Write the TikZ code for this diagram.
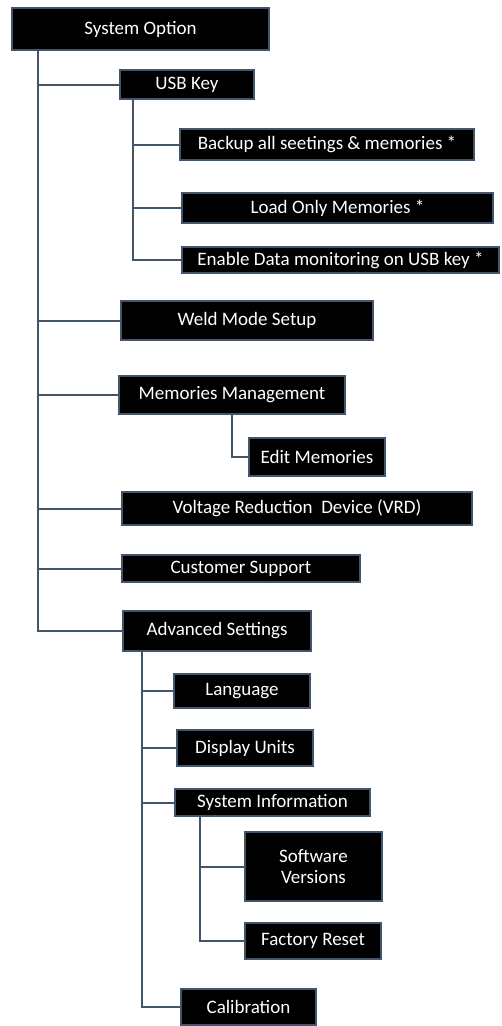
\documentclass[tikz,border=0pt]{standalone}
\usepackage{fontspec}
\setmainfont{Carlito}
\usetikzlibrary{positioning}
\definecolor{slateline}{HTML}{44546A}

\begin{document}
\begin{tikzpicture}[x=1pt,y=-1pt,
    menubox/.style={draw=slateline,line width=1.5pt,fill=black,text=white,align=center,inner sep=0pt,font=\fontsize{19}{21}\selectfont},
    tree/.style={draw=slateline,line width=2pt}]
  \useasboundingbox (0,0) rectangle (501,1026);
  % top level
  \node[menubox,minimum width=257pt,minimum height=42pt] (sysopt) at (140.5,29) {System Option};
  \node[menubox,minimum width=134pt,minimum height=29pt] (usb) at (187,84.5) {USB Key};
  \node[menubox,minimum width=294pt,minimum height=31pt] (backup) at (327,144.5) {Backup all seetings \& memories *};
  \node[menubox,minimum width=311pt,minimum height=30pt] (loadmem) at (337.5,208) {Load Only Memories *};
  \node[menubox,minimum width=317pt,minimum height=26pt] (enable) at (340.5,260) {Enable Data monitoring on USB key *};
  \node[menubox,minimum width=252pt,minimum height=39pt] (weld) at (247,320.5) {Weld Mode Setup};
  \node[menubox,minimum width=226pt,minimum height=38pt] (memmgmt) at (232,395) {Memories Management};
  \node[menubox,minimum width=136pt,minimum height=38pt] (editmem) at (317,457) {Edit Memories};
  \node[menubox,minimum width=350pt,minimum height=33pt] (vrd) at (297,508.5) {Voltage Reduction~~Device (VRD)};
  \node[menubox,minimum width=238pt,minimum height=27pt] (support) at (241,568.5) {Customer Support};
  \node[menubox,minimum width=188pt,minimum height=40pt] (advanced) at (217,631) {Advanced Settings};
  % advanced settings
  \node[menubox,minimum width=136pt,minimum height=34pt] (language) at (242,691) {Language};
  \node[menubox,minimum width=136pt,minimum height=36pt] (units) at (245,748) {Display Units};
  \node[menubox,minimum width=195pt,minimum height=27pt] (sysinfo) at (272.5,802.5) {System Information};
  \node[menubox,minimum width=137pt,minimum height=69pt] (software) at (313.5,866.5) {Software\\Versions};
  \node[menubox,minimum width=136pt,minimum height=36pt] (factory) at (313,941) {Factory Reset};
  \node[menubox,minimum width=135pt,minimum height=36pt] (calib) at (248.5,1007) {Calibration};
  % trunks
  \coordinate (trunkA) at (38,0);
  \coordinate (trunkB) at (133,0);
  \coordinate (trunkC) at (232,0);
  \coordinate (trunkD) at (142,0);
  \coordinate (trunkE) at (200,0);
  \foreach \n in {usb,weld,memmgmt,vrd,support,advanced}
    \draw[tree] (sysopt.south -| trunkA) |- (\n.west);
  \foreach \n in {backup,loadmem,enable}
    \draw[tree] (usb.south -| trunkB) |- (\n.west);
  \draw[tree] (memmgmt.south -| trunkC) |- (editmem.west);
  \foreach \n in {language,units,sysinfo,calib}
    \draw[tree] (advanced.south -| trunkD) |- (\n.west);
  \foreach \n in {software,factory}
    \draw[tree] (sysinfo.south -| trunkE) |- (\n.west);
\end{tikzpicture}
\end{document}
